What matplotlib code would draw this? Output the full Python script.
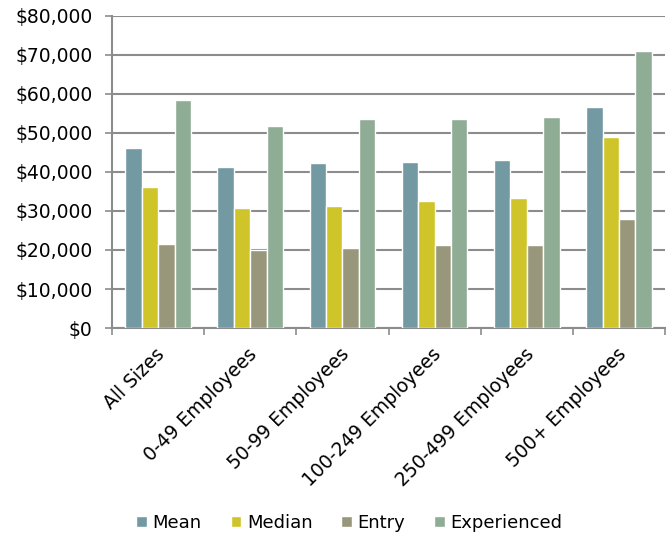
import numpy as np
import matplotlib
matplotlib.use('Agg')
import matplotlib.pyplot as plt
from matplotlib.ticker import FuncFormatter, MultipleLocator

plt.rcParams['font.family'] = ['DejaVu Sans']

categories = ['All Sizes', '0-49 Employees', '50-99 Employees', '100-249 Employees',
              '250-499 Employees', '500+ Employees']
mean = [46100, 41300, 42200, 42600, 43000, 56700]
median = [36000, 30800, 31300, 32600, 33400, 48900]
entry = [21600, 20000, 20400, 21200, 21200, 27900]
experienced = [58400, 51800, 53600, 53500, 54000, 71000]

series = [('Mean', mean, '#7399a3'), ('Median', median, '#cfc52a'),
          ('Entry', entry, '#99977b'), ('Experienced', experienced, '#8fac95')]

fig = plt.figure(figsize=(6.72, 5.37), dpi=100)
ax = fig.add_axes([0.1667, 0.389, 0.823, 0.582])

x = np.arange(len(categories))
w = 0.178
for i, (name, vals, col) in enumerate(series):
    ax.bar(x + (i - 1.5) * w, vals, w, color=col, edgecolor='white', linewidth=1.0,
           label=name, zorder=3)

ax.set_xlim(-0.5, len(categories) - 0.5)
ax.set_ylim(0, 80000)
ax.yaxis.set_major_locator(MultipleLocator(10000))
ax.yaxis.set_major_formatter(FuncFormatter(lambda v, p: '${:,.0f}'.format(v)))
ax.grid(axis='y', color='#8c8c8c', linewidth=1.5, zorder=0)

ax.set_xticks(x - 0.03)
ax.set_xticklabels(categories, rotation=45, ha='right', rotation_mode='anchor', fontsize=13.5)
ax.tick_params(axis='x', length=0, pad=12)
ax.set_xticks(np.arange(len(categories) + 1) - 0.5, minor=True)
ax.tick_params(axis='x', which='minor', length=5, color='#8c8c8c', width=1.2)
ax.tick_params(axis='y', labelsize=13.5, length=5, color='#8c8c8c', width=1.2, pad=9)

for s in ['top', 'right']:
    ax.spines[s].set_visible(False)
for s in ['left', 'bottom']:
    ax.spines[s].set_color('#8c8c8c')
    ax.spines[s].set_linewidth(1.5)

fig.legend(loc='center', bbox_to_anchor=(0.52, 0.026), ncol=4, frameon=False,
           fontsize=13, handlelength=0.6, handleheight=0.6, handletextpad=0.3,
           columnspacing=1.6)

plt.savefig('out.png', dpi=100)
